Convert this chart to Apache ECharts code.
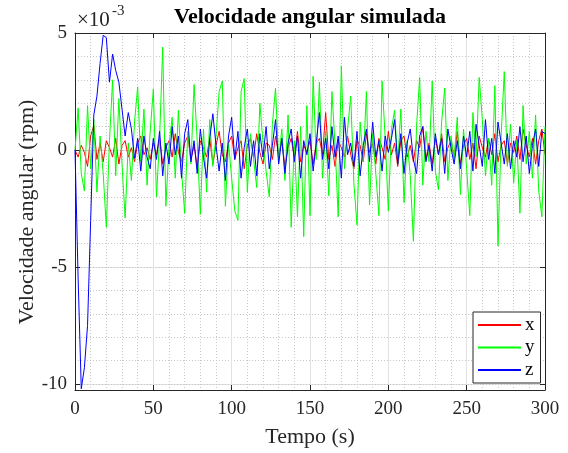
<!DOCTYPE html>
<html>
<head>
<meta charset="utf-8">
<script src="https://cdn.jsdelivr.net/npm/echarts@6/dist/echarts.min.js"></script>
<style>
  html, body { margin: 0; background: #fff; }
  #chart { width: 568px; height: 453px; }
</style>
</head>
<body>
<div id="chart"></div>
<script>
// sample step (s)
const dt = 2;

// angular velocity, units of 1e-3 rpm
const wx = [
  0, -0.3, 0.2, -0.1, -0.7, 0.6, 1.05, -0.4, 0.3, -0.5, 0.4, 0.1, -0.3, 0.5, -0.6, 0.2, 0.4, -0.3, 0.1, -0.5, 0.3, 0.6, -0.2, 0.1, -0.4, 0.3,
  -0.2, 0.5, -0.6, 0.1, 0.4, -0.3, 0.7, -0.1, -0.5, 0.3,
  0.6, -0.4, 0.2, -0.7, 0.4, 0.1, -0.3, 0.5, -0.6, 0.2,
  0.8, -0.2, -0.5, 0.3, 0.6, -0.4, 0.1, 0.4, -0.8, 0.2,
  0.5, -0.3, 0.7, -0.1, -0.6, 0.3, 0.2, -0.4, 0.6, -0.2,
  0.4, -0.7, 0.1, 0.5, -0.3, 0.8, -0.5, 0.2, -0.1, 0.4,
  -0.6, 0.3, 0.5, -0.2, 1.6, -0.4, 0.2, -0.7, 0.4, 0.1,
  -0.3, 0.6, -0.2, -0.8, 0.4, 0.2, -0.5, 0.7, -0.1, 0.3,
  -0.6, 0.5, 0.1, -0.4, 0.8, -0.2, 0.3, -0.7, 0.4, 0.6,
  -0.3, 0.2, -0.5, 0.4, 0.1, 1.0, -0.4, 0.3, -0.6, 0.5,
  -0.2, 0.7, -0.5, 0.1, 0.4, -0.3, 0.8, -0.6, 0.2, 0.5,
  -0.4, 0.3, -0.8, 0.6, 0.1, -0.3, 0.5, -0.2, 0.7, -0.5,
  0.2, 0.4, -0.6, 0.3, -0.1, 0.6, -0.4, 0.9, 0.2, -0.3,
  0.5, -0.6, 0.4, 0.9, -0.2
];

const wy = [
  0, 1.8, -1.0, -1.75, 1.9, -0.8, 1.3, -1.8, 0.6, -1.0,
  -3.3, 0.4, 3.0, -1.1, 2.2, -0.6, -2.9, 0.3, -1.3, 1.2,
  2.7, -0.5, 1.75, -1.5, 0.8, 2.6, -2.0, 0.5, 4.4, -2.4,
  0.2, 1.4, -1.2, 1.7, -0.9, -2.7, 0.8, -0.6, 2.8, 0.4,
  -2.75, 0.9, -1.8, 1.3, -0.7, 0.6, 2.5, 2.95, -2.4, 0.3,
  -1.2, -2.6, -3.0, 2.5, 3.05, -1.8, 0.7, -0.4, -1.6, 2.0,
  0.3, -0.9, -2.0, 1.1, 2.65, -0.5, 0.9, -1.3, 1.5, -3.3,
  0.4, -2.85, 1.0, -3.7, 1.9, -2.8, 3.15, -0.4, 2.9, -1.2,
  0.8, -1.95, 2.5, 0.2, -2.85, 3.6, -0.8, 0.9, 2.3, -1.4,
  -3.2, 1.2, -0.5, 2.5, -2.35, 0.7, -1.0, -2.8, 2.95, 0.5,
  -2.6, 0.9, 1.7, -0.6, 1.75, -2.25, 0.4, -1.1, -3.9, 1.0,
  3.1, -1.5, 0.8, -0.5, 2.95, -0.9, -1.7, 1.2, 2.65, -1.3,
  0.6, -0.4, 1.4, -1.9, 0.9, -0.8, -2.8, 1.6, -0.3, 3.1,
  1.3, -1.1, 0.5, -1.5, 2.75, -4.1, 0.6, 3.35, -0.7, 1.1,
  -1.4, 0.4, -2.7, 1.9, -0.6, 0.8, -1.2, 1.5, -1.75, -2.85, 1.0
];

const wz = [
  0, -5.5, -10.2, -9.3, -7.5, -3.0, 1.5, 2.3, 3.7, 4.9,
  4.8, 2.9, 4.1, 3.4, 2.9, 1.75, 0.6, 1.6, 0.9, -0.35,
  0.5, -0.9, 0.6, -0.3, -0.8, 0.5, -0.4, 0.8, -1.1, 0.3,
  -0.6, 1.0, -0.2, 0.6, -1.2, 0.7, 1.3, -0.5, 0.4, -1.0,
  0.9, -0.3, -1.2, 0.5, 1.55, 0.2, -0.9, 0.3, -1.3, 0.6,
  1.4, -0.4, 0.8, -1.2, 0.1, 0.9, -0.7, 0.4, -1.1, 0.7,
  -0.3, 1.0, -0.8, 0.2, 1.3, -0.6, 0.5, -1.0, 0.3, 0.9,
  -0.5, 0.6, -1.2, 0.4, -0.2, 0.7, -0.9, 0.3, 1.6, -0.4,
  0.5, -0.8, 1.0, -0.3, 0.6, -1.2, 1.4, -0.2, 0.3, -0.7,
  0.8, -1.1, 0.2, 0.9, -0.5, 1.2, -0.3, 0.4, -0.9, 0.6,
  -0.1, 0.5, 1.3, -0.6, 0.7, -1.0, 0.3, 0.9, -0.4, -1.0,
  0.6, 1.0, -0.5, 0.2, -0.9, 0.7, -0.2, 0.5, -1.0, 0.9,
  0.1, -0.6, 0.4, -0.8, 0.6, -0.3, 0.8, -0.9, 1.1, 0.2,
  -0.7, 1.3, -0.4, 0.5, -1.0, 1.2, 0.3, -0.6, 0.7, -0.8,
  0.4, -0.3, 1.0, -0.5, 0.6, -1.0, 0.2, 0.9, -0.7, 0.8, 0.7
];

const seriesNames = ['x', 'y', 'z'];
const seriesColors = ['#ff0000', '#00ff00', '#0000ff'];
const yTicks = [-10, -5, 0, 5];
const yMinor = [-10, -9, -8, -7, -6, -5, -4, -3, -2, -1, 0, 1, 2, 3, 4, 5];

const FONT = 'Liberation Serif';
const AX = '#262626';

const chart = echarts.init(document.getElementById('chart'));

const toPts = (arr) => arr.map((v, i) => [i * dt, v]);

const baseY = { type: 'value', min: -10.25, max: 5, gridIndex: 0 };

chart.setOption({
  animation: false,
  backgroundColor: '#fff',
  grid: { left: 75, right: 23, top: 33, bottom: 59 },
  graphic: [
    { type: 'text', x: 310, y: 17, style: { text: 'Velocidade angular simulada', font: 'bold 22px ' + FONT, fill: '#000', align: 'center', verticalAlign: 'middle' } },
    { type: 'text', x: 77, y: 20, style: { text: '\u00d710', font: '21px ' + FONT, fill: AX, align: 'left', verticalAlign: 'middle' } },
    { type: 'text', x: 112, y: 11, style: { text: '-3', font: '15px ' + FONT, fill: AX, align: 'left', verticalAlign: 'middle' } },
    // y axis title
    { type: 'text', x: 27, y: 212, rotation: Math.PI / 2, style: { text: 'Velocidade angular (rpm)', font: '22px ' + FONT, fill: AX, align: 'center', verticalAlign: 'middle' } }
  ],
  legend: {
    orient: 'vertical',
    left: 473,
    top: 312,
    data: seriesNames,
    itemWidth: 43,
    itemHeight: 10,
    itemGap: 3.5,
    padding: [3.5, 6, 3.5, 4],
    borderColor: AX,
    borderWidth: 1,
    borderRadius: 0,
    backgroundColor: '#fff',
    itemStyle: { opacity: 0 },
    textStyle: { fontFamily: FONT, fontSize: 19, lineHeight: 19, color: '#000', padding: [0, 0, 0, -1] }
  },
  xAxis: [
    {
      type: 'value', min: 0, max: 300, interval: 50, position: 'bottom',
      name: 'Tempo (s)', nameLocation: 'middle', nameGap: 36,
      nameTextStyle: { fontFamily: FONT, fontSize: 22, color: AX },
      axisLine: { show: true, onZero: false, lineStyle: { color: AX, width: 1 } },
      axisTick: { show: true, inside: true, length: 5, lineStyle: { color: AX } },
      axisLabel: { fontFamily: FONT, fontSize: 19, color: AX, margin: 10 },
      splitLine: { show: true, lineStyle: { color: '#e2e2e2', width: 1 } },
      minorTick: { show: false, splitNumber: 5 },
      minorSplitLine: { show: true, lineStyle: { color: '#c8c8c8', type: [1, 2], width: 1 } }
    },
    {
      type: 'value', min: 0, max: 300, interval: 50, position: 'top',
      axisLine: { show: true, onZero: false, lineStyle: { color: AX, width: 1 } },
      axisTick: { show: true, inside: true, length: 5, lineStyle: { color: AX } },
      axisLabel: { show: false },
      splitLine: { show: false }
    }
  ],
  yAxis: [
    Object.assign({}, baseY, {
      position: 'left',
      axisLine: { show: true, onZero: false, lineStyle: { color: AX, width: 1 } },
      axisTick: { show: true, inside: true, length: 5, customValues: yTicks, lineStyle: { color: AX } },
      axisLabel: { fontFamily: FONT, fontSize: 19, color: AX, margin: 8, customValues: yTicks },
      splitLine: { show: true, lineStyle: { color: '#e2e2e2', width: 1 } }
    }),
    Object.assign({}, baseY, {
      position: 'left',
      axisLine: { show: false },
      axisTick: { show: false, customValues: yMinor },
      axisLabel: { show: false },
      splitLine: { show: true, lineStyle: { color: '#c8c8c8', type: [1, 2], width: 1 } }
    }),
    Object.assign({}, baseY, {
      position: 'right',
      axisLine: { show: true, onZero: false, lineStyle: { color: AX, width: 1 } },
      axisTick: { show: true, inside: true, length: 5, customValues: yTicks, lineStyle: { color: AX } },
      axisLabel: { show: false },
      splitLine: { show: false }
    })
  ],
  series: [wx, wy, wz].map((arr, k) => ({
    name: seriesNames[k],
    type: 'line',
    xAxisIndex: 0,
    yAxisIndex: 0,
    data: toPts(arr),
    symbol: 'none',
    lineStyle: { color: seriesColors[k], width: 1 },
    itemStyle: { color: seriesColors[k] },
    z: 2 + k
  }))
});
</script>
</body>
</html>
